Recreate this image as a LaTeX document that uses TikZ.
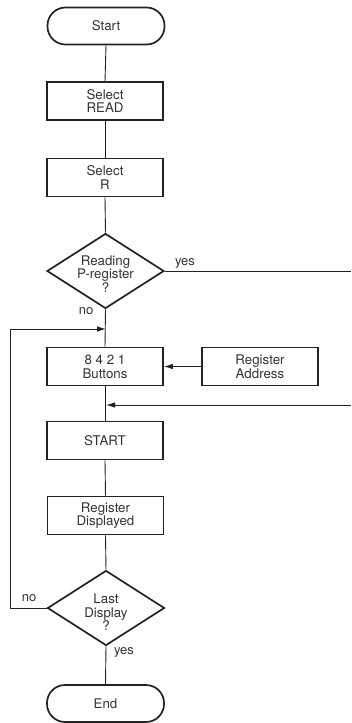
\documentclass[tikz,border=0pt]{standalone}
\usepackage{fontspec}
\setmainfont{TeX Gyre Heros}
\usetikzlibrary{arrows.meta,shapes.geometric}
\definecolor{ink}{HTML}{222222}
\definecolor{txt}{HTML}{333333}
\begin{document}
\begin{tikzpicture}[x=1pt,y=-1pt,
  every node/.style={font=\fontsize{13.3}{13.8}\selectfont, text=txt, align=center},
  procbox/.style={draw=ink, line width=1.7pt, minimum width=116pt, minimum height=38pt, inner sep=0pt},
  termbox/.style={draw=ink, line width=1.7pt, minimum width=117pt, minimum height=37pt, inner sep=0pt, rounded corners=18pt},
  decbox/.style={draw=ink, line width=1.7pt, diamond, minimum width=117pt, minimum height=75pt, inner sep=0pt, aspect=1.56},
  dectext/.style={font=\fontsize{13.3}{12.7}\selectfont},
  flow/.style={draw=ink, line width=0.9pt},
  tip/.style={-{Latex[length=9pt,width=5.5pt]}},
  lbl/.style={font=\fontsize{13}{13}\selectfont}
]
\useasboundingbox (0,0) rectangle (351,723);

% main column
\node[termbox] (start) at (106,26) {Start};
\node[procbox] (read)  at (105,101) {Select\\READ};
\node[procbox] (selr)  at (105,177.5) {Select\\R};
\node[decbox]  (dp)    at (105.5,271) {};
\node[dectext] (dptext) at (105.5,274) {Reading\\P-register\\?};
\node[procbox] (btn)   at (105,366.5) {8 4 2 1\\Buttons};
\node[procbox] (reg)   at (260,366.5) {Register\\Address};
\node[procbox] (go)    at (105,440.5) {START};
\node[procbox] (disp)  at (105.5,515.5) {Register\\Displayed};
\node[decbox]  (dl)    at (106,608) {};
\node[dectext, font=\fontsize{13.3}{13.5}\selectfont] (dltext) at (106,612.5) {Last\\Display\\?};
\node[termbox] (stop)  at (105.5,703.5) {End};

% merge points and off-page ends
\coordinate (m1) at (106,329);
\coordinate (m2) at (106,405);
\coordinate (yesout) at (351,271);
\coordinate (yesin) at (351,405);
\coordinate (lc1) at (10,608);
\coordinate (lc2) at (10,329);

% connectors
\draw[flow] (start.south) -- (read.north);
\draw[flow] (read.south) -- (selr.north);
\draw[flow] (selr.south) -- (dp.north);
\draw[flow] (dp.south) -- (btn.north);
\draw[flow] (btn.south) -- (go.north);
\draw[flow] (go.south) -- (disp.north);
\draw[flow] (disp.south) -- (dl.north);
\draw[flow] (dl.south) -- (stop.north);
\draw[flow] (dp.east) -- (yesout);
\draw[flow, tip] (yesin) -- (m2);
\draw[flow, tip] (reg.west) -- (btn.east);
\draw[flow, tip] (dl.west) -- (lc1) -- (lc2) -- (m1);

% branch labels
\node[lbl] (y1) at (185,263) {yes};
\node[lbl] (n1) at (86,311) {no};
\node[lbl] (n2) at (29,598) {no};
\node[lbl] (y2) at (124,652) {yes};
\end{tikzpicture}
\end{document}
